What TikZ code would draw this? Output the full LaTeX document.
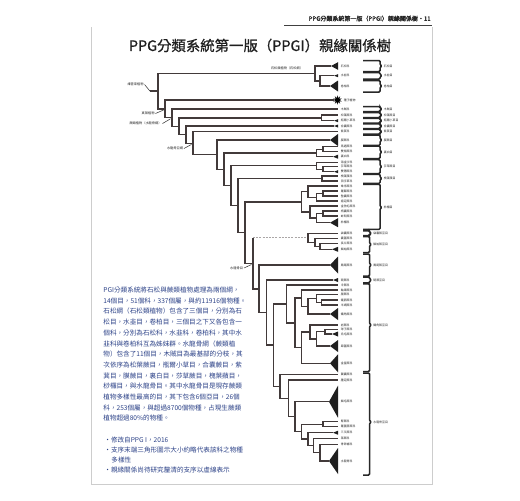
\documentclass[tikz,border=0pt]{standalone}
\usepackage{fontspec}
\newfontfamily\cjk{Noto Sans CJK TC}
\newfontfamily\cjkhead[FakeBold=1.6]{Noto Sans CJK TC}
\newfontfamily\cjktitle[FakeBold=0.8]{Noto Sans CJK TC}
\usetikzlibrary{shapes.geometric,calc}
\definecolor{treec}{RGB}{66,58,58}
\definecolor{parac}{RGB}{44,66,136}
\definecolor{framec}{RGB}{205,205,205}
\definecolor{textc}{RGB}{40,40,40}
\newcommand\leaf[4]{\coordinate (#1) at (#2,#3);\node[lab] (#1-t) at (340.5,#3) {#4};}
\newcommand\tri[3]{\fill[black!88] (#1,#2) -- (338,{#2-#3}) -- (338,{#2+#3}) -- cycle;}
\newcommand\kids[3]{\draw[br] (#1) |- (#2);\draw[br] (#1) |- (#3);}
\newcommand\obr[6]{\draw[brk] (363,#3) -- (#2,#3) -- (#2,{#5-1.2}) -- ({#2+2},#5) -- (#2,{#5+1.2}) -- (#2,#4) -- (363,#4);\node[olab] (#1) at ({#2+3.5},#5) {#6};}
\begin{document}
\begin{tikzpicture}[x=0.5pt,y=-0.5pt,
 br/.style={draw=treec,line width=0.7pt},
 dsh/.style={draw=treec!45,line width=0.45pt,dash pattern=on 1pt off 0.6pt},
 brk/.style={draw=textc,line width=0.75pt,rounded corners=0.5pt},
 lab/.style={anchor=west,inner sep=0pt,text=textc,font=\fontsize{1.45}{1.7}\selectfont\cjk},
 olab/.style={anchor=west,inner sep=0pt,text=textc,font=\fontsize{1.45}{1.7}\selectfont\cjk},
 clab/.style={inner sep=0.3pt,text=textc,font=\fontsize{1.6}{1.9}\selectfont\cjk},
 lead/.style={draw=textc,line width=0.25pt},
 ptxt/.style={anchor=base west,inner sep=0pt,text=parac,font=\fontsize{3.3}{4}\selectfont\cjk},
 ]
\useasboundingbox (0,0) rectangle (520,500);
\fill[white] (0,0) rectangle (520,500);
% page frame
\draw[framec,line width=0.5pt] (91,27) -- (91,484) -- (432,484) -- (432,27);
\draw[black!75,line width=0.8pt] (284,25.5) -- (432,25.5);
\node[anchor=east,inner sep=0pt,text=black!85,font=\fontsize{3}{3.6}\selectfont\cjkhead] (head) at (431,18.5) {PPG分類系統第一版（PPGI）親緣關係樹・11};
\node[inner sep=0pt,text=black!88,font=\fontsize{7.2}{8.5}\selectfont\cjktitle] (title) at (260,45.5) {PPG分類系統第一版（PPGI）親緣關係樹};

% ---------- leaves ----------
\leaf{lycA}{331}{66}{石松科} \tri{331}{66}{3.8}
\leaf{lycB}{334}{75.7}{水韭科} \tri{334}{75.7}{1.5}
\leaf{lycC}{330}{86}{卷柏科} \tri{330}{86}{5.5}
\coordinate (seed) at (334,100);
\node[star,star points=10,star point ratio=2.2,fill=black,inner sep=0pt,minimum size=4.6pt] (seedstar) at (337.5,100) {};
\node[lab] (seed-t) at (343.5,100) {種子植物};
\leaf{equ}{338}{109}{木賊科}
\leaf{psi}{338}{115}{松葉蕨科}
\leaf{oph}{334}{120.7}{瓶爾小草科} \tri{334}{120.7}{1.5}
\leaf{mar}{334}{126}{合囊蕨科} \tri{334}{126}{1.5}
\leaf{osm}{338}{131.7}{紫萁科}
\leaf{hym}{330}{140}{膜蕨科} \tri{330}{140}{6}
\leaf{mat}{338}{146.7}{馬通蕨科}
\leaf{dip}{338}{151.7}{雙扇蕨科}
\leaf{gle}{333}{156.7}{裏白科} \tri{333}{156.7}{2}
\leaf{lyg}{338}{162.3}{海金沙科}
\leaf{sch}{338}{166.7}{莎草蕨科}
\leaf{ane}{334}{171.7}{雙穗蕨科} \tri{334}{171.7}{1.5}
\leaf{salv}{338}{176}{槐葉蘋科}
\leaf{mars}{338}{181}{田字草科}
\leaf{thy}{338}{186}{傘序蕨科}
\leaf{lox}{338}{191}{羅蘇蕨科}
\leaf{cul}{338}{196}{墊囊蕨科}
\leaf{pla}{338}{201}{瘤足蕨科}
\leaf{cib}{338}{206}{金狗毛蕨科}
\leaf{met}{338}{211}{柄囊蕨科}
\leaf{dic}{338}{216}{蚌殼蕨科}
\leaf{cya}{330}{222.7}{桫欏科} \tri{330}{222.7}{4.5}
\leaf{sac}{338}{233.3}{袋囊蕨科}
\leaf{cys}{338}{238.3}{囊蓋蕨科}
\leaf{lon}{338}{243.3}{長片蕨科}
\leaf{lin}{332}{249.3}{鱗始蕨科} \tri{332}{249.3}{2.5}
\leaf{pte}{330}{265}{鳳尾蕨科} \tri{330}{265}{8.5}
\leaf{den}{333}{280}{碗蕨科} \tri{333}{280}{2}
\leaf{cyst}{338}{285}{冷蕨科}
\leaf{rha}{338}{290}{軸果蕨科}
\leaf{dipz}{338}{294.5}{腸蕨科}
\leaf{des}{338}{300}{鏈脈蕨科}
\leaf{hem}{338}{305}{半網蕨科}
\leaf{asp}{330}{314}{鐵角蕨科} \tri{330}{314}{6}
\leaf{woo}{338}{325}{岩蕨科}
\leaf{ono}{338}{329.3}{球子蕨科}
\leaf{ble}{332}{334}{烏毛蕨科} \tri{332}{334}{2.5}
\leaf{ath}{330}{346}{蹄蓋蕨科} \tri{330}{346}{6}
\leaf{the}{330}{363.3}{金星蕨科} \tri{330}{363.3}{9}
\leaf{did}{338}{374.3}{翼囊蕨科}
\leaf{hyp}{338}{380}{腫足蕨科}
\leaf{dry}{329}{401.7}{鱗毛蕨科} \tri{329}{401.7}{16}
\leaf{nep}{338}{421.7}{腎蕨科}
\leaf{lom}{338}{426.7}{羅蔓藤蕨科}
\leaf{tec}{333}{432.7}{三叉蕨科} \tri{333}{432.7}{2}
\leaf{ole}{338}{438.3}{蓧蕨科}
\leaf{dav}{338}{444.3}{骨碎補科}
\leaf{pol}{329}{461}{水龍骨科} \tri{329}{461}{13}

% ---------- internal nodes ----------
\coordinate (LI) at (320,80.85);
\coordinate (LY) at (315,73.4);
\coordinate (PsOp) at (321.7,117.85);
\coordinate (GI) at (323,149.2);
\coordinate (GO) at (316.5,152.95);
\coordinate (SI) at (323,169.2);
\coordinate (SO) at (316.5,165.75);
\coordinate (SV) at (322,178.5);
\coordinate (KI) at (323,193.5);
\coordinate (K) at (316.5,197.25);
\coordinate (H1) at (308,191.6);
\coordinate (LJ) at (323,213.5);
\coordinate (L) at (316.5,218.1);
\coordinate (H2) at (310,212.05);
\coordinate (CY) at (301.7,201.8);
\coordinate (NI) at (320,246.3);
\coordinate (NO) at (315,242.3);
\coordinate (SL) at (308,237.8);
\coordinate (C1) at (321.7,302.5);
\coordinate (C2) at (316.5,298.5);
\coordinate (C3) at (308,306.2);
\coordinate (C4) at (301.7,298.1);
\coordinate (B1) at (325,331.65);
\coordinate (B2) at (316.5,338.8);
\coordinate (B3) at (310,331.9);
\coordinate (B4) at (301.7,347.6);
\coordinate (C5) at (295,322.85);
\coordinate (A0) at (286.7,303.9);
\coordinate (F1) at (320,452.65);
\coordinate (F2) at (313.3,445.5);
\coordinate (E3) at (308,439.1);
\coordinate (E1) at (323,424.2);
\coordinate (P4) at (301.7,431.65);
\coordinate (P3) at (295,416.7);
\coordinate (P2) at (288.3,398.35);
\coordinate (P) at (280,386.3);
\coordinate (Q3) at (273.3,345.1);
\coordinate (Q2) at (266.7,312.55);
\coordinate (Q1) at (259,288.8);
\coordinate (PO) at (253,263.3);
\coordinate (X7) at (245,232.55);
\coordinate (X6) at (238,205.5);
\coordinate (X5) at (231,185.6);
\coordinate (X4) at (224,169.3);
\coordinate (X3) at (217,154.65);
\coordinate (PD) at (193,143.2);
\coordinate (X2) at (186,134.6);
\coordinate (X1) at (179,126.2);
\coordinate (FE) at (172,117.6);
\coordinate (EU) at (165,108.8);
\coordinate (RT) at (158,91.1);
\coordinate (rootstub) at (150,91.1);

% ---------- edges ----------
\draw[br] (rootstub) -- (RT);
\kids{RT}{LY}{EU}
\kids{LY}{lycA}{LI}
\kids{LI}{lycB}{lycC}
\kids{EU}{seed}{FE}
\kids{FE}{equ}{X1}
\kids{X1}{PsOp}{X2}
\kids{PsOp}{psi}{oph}
\kids{X2}{mar}{PD}
\kids{PD}{osm}{X3}
\kids{X3}{hym}{X4}
\kids{X4}{GO}{X5}
\kids{GO}{GI}{gle}
\kids{GI}{mat}{dip}
\kids{X5}{SO}{X6}
\kids{SO}{lyg}{SI}
\kids{SI}{sch}{ane}
\kids{X6}{SV}{X7}
\kids{SV}{salv}{mars}
\kids{X7}{CY}{PO}
\kids{CY}{H1}{H2}
\kids{H1}{thy}{K}
\kids{K}{KI}{pla}
\kids{KI}{lox}{cul}
\kids{H2}{cib}{L}
\kids{L}{LJ}{cya}
\kids{LJ}{met}{dic}
\draw[br] (PO) |- (Q1);
\draw[br] (PO) -- (PO |- SL);
\draw[dsh] (PO |- SL) -- (SL);
\kids{SL}{sac}{NO}
\kids{NO}{cys}{NI}
\kids{NI}{lon}{lin}
\kids{Q1}{pte}{Q2}
\kids{Q2}{den}{Q3}
\kids{Q3}{A0}{P}
\kids{A0}{cyst}{C5}
\kids{C5}{C4}{B4}
\kids{C4}{rha}{C3}
\kids{C3}{C2}{asp}
\kids{C2}{dipz}{C1}
\kids{C1}{des}{hem}
\kids{B4}{B3}{the}
\kids{B3}{woo}{B2}
\kids{B2}{B1}{ath}
\kids{B1}{ono}{ble}
\kids{P}{did}{P2}
\kids{P2}{hyp}{P3}
\kids{P3}{dry}{P4}
\kids{P4}{E1}{E3}
\kids{E1}{nep}{lom}
\kids{E3}{tec}{F2}
\kids{F2}{ole}{F1}
\kids{F1}{dav}{pol}

% ---------- clade labels ----------
\node[clab] (lycl) at (287,68.6) {石松類植物（石松綱）};
\node[clab,anchor=east] (vasc) at (144.5,84.5) {維管束植物};
\draw[lead] (vasc.east) -- (rootstub);
\node[clab,anchor=east] (euph) at (155.5,113.5) {真葉植物};
\draw[lead] (euph.east) -- ($(EU)+(-1.5,1.2)$);
\node[clab,anchor=east] (fern) at (162.5,123.5) {蕨類植物（水龍骨綱）};
\draw[lead] (fern.east) -- ($(FE)+(-1.5,1.2)$);
\node[clab,anchor=east] (polyd) at (184,148.5) {水龍骨亞綱};
\draw[lead] (polyd.east) -- ($(PD)+(-1.5,1.2)$);
\node[clab,anchor=east] (polyo) at (244,268) {水龍骨目};
\draw[lead] (polyo.east) -- ($(PO)+(-1.5,1.2)$);

% ---------- order brackets ----------
\obr{o1}{380}{60.5}{71.5}{66}{石松目}
\obr{o2}{380}{72.5}{79}{75.7}{水韭目}
\obr{o3}{380}{80.5}{92}{86}{卷柏目}
\obr{o4}{380}{106.5}{111.5}{109}{木賊目}
\obr{o5}{380}{112.5}{117.5}{115}{松葉蕨目}
\obr{o6}{380}{118.3}{123}{120.7}{瓶爾小草目}
\obr{o7}{380}{123.8}{128.5}{126}{合囊蕨目}
\obr{o8}{380}{129.3}{134}{131.7}{紫萁目}
\obr{o9}{380}{135}{145.3}{140}{膜蕨目}
\obr{o10}{380}{146}{158.5}{152}{裏白目}
\obr{o11}{380}{159.7}{173.5}{166.7}{莎草蕨目}
\obr{o12}{380}{174.3}{183.3}{178.5}{槐葉蘋目}
\obr{o13}{380}{184.3}{229.3}{207.5}{桫欏目}
\obr{s1}{369.5}{230.8}{235.5}{233.3}{袋囊蕨亞目}
\obr{s2}{369.5}{236.5}{252.5}{244.5}{鱗始蕨亞目}
\obr{s3}{369.5}{254}{276}{265}{鳳尾蕨亞目}
\obr{s4}{369.5}{277}{282.8}{280}{碗蕨亞目}
\obr{s5}{369.5}{283.8}{371.5}{325}{鐵角蕨亞目}
\obr{s6}{369.5}{373}{475}{422}{水龍骨亞目}

% ---------- paragraph ----------
\foreach \t [count=\i] in {
 {PGI分類系統將石松與蕨類植物處理為兩個綱，},
 {14個目，51個科，337個屬，與約11916個物種。},
 {石松綱（石松類植物）包含了三個目，分別為石},
 {松目，水韭目，卷柏目，三個目之下又各包含一},
 {個科，分別為石松科，水韭科，卷柏科，其中水},
 {韭科與卷柏科互為姊妹群。水龍骨綱（蕨類植},
 {物）包含了11個目，木賊目為最基部的分枝，其},
 {次依序為松葉蕨目，瓶爾小草目，合囊蕨目，紫},
 {萁目，膜蕨目，裏白目，莎草蕨目，槐葉蘋目，},
 {桫欏目，與水龍骨目。其中水龍骨目是現存蕨類},
 {植物多樣性最高的目，其下包含6個亞目，26個},
 {科，253個屬，與超過8700個物種，占現生蕨類},
 {植物超過80\%的物種。}}
 \node[ptxt] (p\i) at (103,{292.5+(\i-1)*10.7}) {\t};
\node[ptxt] (n1) at (104,442.5) {・修改自PPG I，2016};
\node[ptxt] (n2) at (104,452.5) {・支序末端三角形圖示大小約略代表該科之物種};
\node[ptxt] (n3) at (111,462.5) {多樣性};
\node[ptxt] (n4) at (104,472.5) {・親緣關係尚待研究釐清的支序以虛線表示};
\end{tikzpicture}
\end{document}
